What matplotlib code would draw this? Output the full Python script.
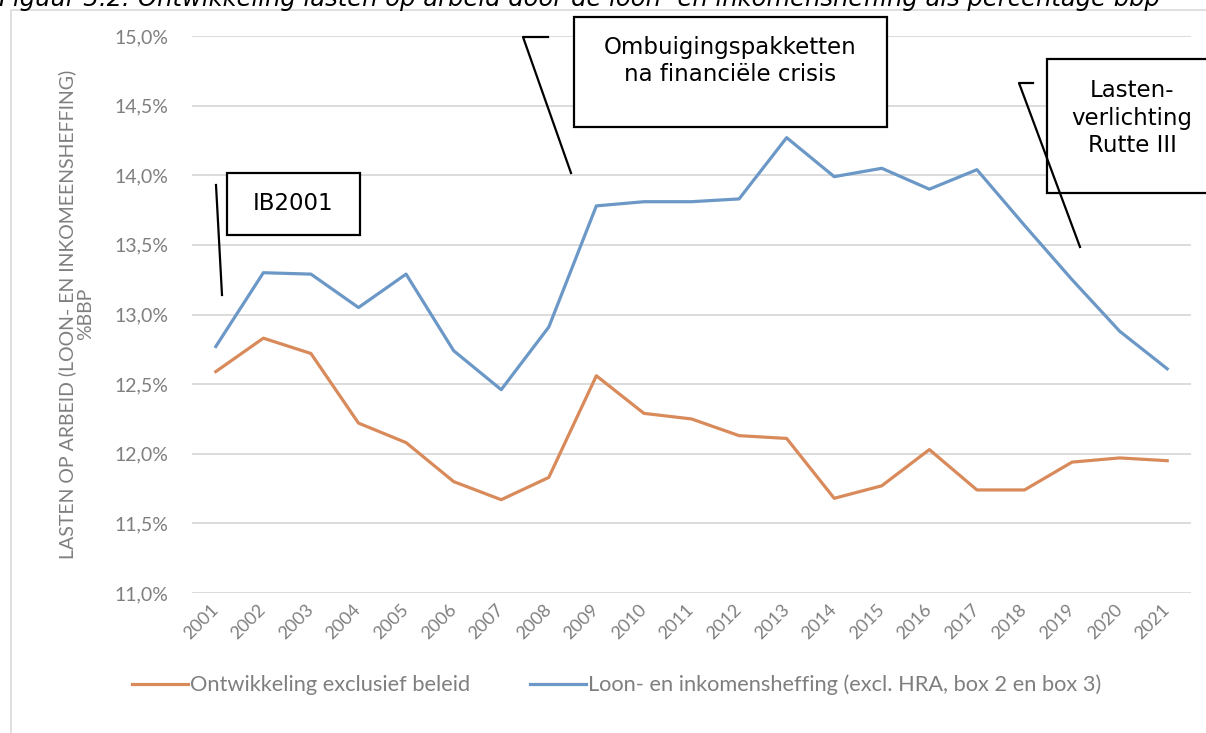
import matplotlib
matplotlib.use("Agg")
import matplotlib.pyplot as plt
from matplotlib.patches import Rectangle
from matplotlib.lines import Line2D
from matplotlib.ticker import FuncFormatter

years = [str(y) for y in range(2001, 2022)]
loon_inkomensheffing = [12.77, 13.30, 13.29, 13.05, 13.29, 12.74, 12.46, 12.91, 13.78, 13.81,
                        13.81, 13.83, 14.27, 13.99, 14.05, 13.90, 14.04, 13.64, 13.25, 12.88, 12.61]
exclusief_beleid = [12.59, 12.83, 12.72, 12.22, 12.08, 11.80, 11.67, 11.83, 12.56, 12.29,
                    12.25, 12.13, 12.11, 11.68, 11.77, 12.03, 11.74, 11.74, 11.94, 11.97, 11.95]
series_names = ["Ontwikkeling exclusief beleid",
                "Loon- en inkomensheffing (excl. HRA, box 2 en box 3)"]
y_ticks = [11.0, 11.5, 12.0, 12.5, 13.0, 13.5, 14.0, 14.5, 15.0]
title = "Figuur 3.2: Ontwikkeling lasten op arbeid door de loon- en inkomensheffing als percentage bbp"
ylabel = "LASTEN OP ARBEID (LOON- EN INKOMEENSHEFFING)\n%BBP"

W, H = 1206, 733
fig = plt.figure(figsize=(W / 100, H / 100), dpi=100)

def fx(x):
    return x / W

def fy(y):
    return 1 - y / H

BLUE = "#6b98c6"
ORANGE = "#d98a5b"
GRAY = "#7f7f7f"
GRID = "#d9d9d9"
label_font = ["Lato", "DejaVu Sans"]

# outer chart border
fig.patches.append(Rectangle((fx(11), fy(745)), fx(1220) - fx(11), fy(10) - fy(745),
                             transform=fig.transFigure, fill=False, edgecolor=GRID, lw=1.2))

ax = fig.add_axes([fx(192), fy(593), fx(1191) - fx(192), fy(36) - fy(593)])
x = list(range(len(years)))
ax.plot(x, exclusief_beleid, color=ORANGE, lw=2.3, label=series_names[0], solid_joinstyle="round")
ax.plot(x, loon_inkomensheffing, color=BLUE, lw=2.3, label=series_names[1], solid_joinstyle="round")
ax.set_xlim(-0.5, len(years) - 0.5)
ax.set_ylim(11.0, 15.0)
ax.set_yticks(y_ticks)
ax.yaxis.set_major_formatter(FuncFormatter(lambda v, p: f"{v:.1f}%".replace(".", ",")))
ax.set_xticks(x)
ax.set_xticklabels(years, rotation=45, ha="right", va="center", rotation_mode="anchor")
ax.grid(axis="y", color=GRID, lw=1.3)
ax.set_axisbelow(True)
for s in ax.spines.values():
    s.set_visible(False)
ax.tick_params(axis="both", length=0, colors=GRAY)
ax.tick_params(axis="y", pad=17, labelsize=14)
ax.tick_params(axis="x", pad=10, labelsize=13)
for lab in ax.get_xticklabels() + ax.get_yticklabels():
    lab.set_family(label_font)
    lab.set_color(GRAY)

fig.text(fx(76), fy(314), ylabel, rotation=90, ha="center", va="center", color=GRAY,
         fontsize=14, family=label_font, multialignment="center", linespacing=1.1)

leg = ax.legend(loc="center left", bbox_to_anchor=(fx(112), fy(685)), bbox_transform=fig.transFigure,
                ncol=2, frameon=False, handlelength=2.6, handletextpad=0.1, columnspacing=2.7,
                prop={"family": label_font, "size": 15.7})
for t in leg.get_texts():
    t.set_color(GRAY)

# title (cut at top, as in the source page)
fig.text(fx(-1), fy(6), title, ha="left", va="baseline", fontsize=17.5, style="italic",
         family=["DejaVu Sans"], color="black")

# annotation boxes
def box(x0, y0, x1, y1):
    fig.patches.append(Rectangle((fx(x0), fy(y1)), fx(x1) - fx(x0), fy(y0) - fy(y1),
                                 transform=fig.transFigure, fill=True, facecolor="white",
                                 edgecolor="black", lw=1.6, zorder=5))

def seg(pts):
    xs = [fx(p[0]) for p in pts]
    ys = [fy(p[1]) for p in pts]
    fig.lines.append(Line2D(xs, ys, transform=fig.transFigure, color="black", lw=1.6, zorder=6))

box(227, 173, 360, 235)
fig.text(fx(293), fy(204), "IB2001", ha="center", va="center", fontsize=16.5, family=["DejaVu Sans"], zorder=7)
seg([(216, 185), (222, 295)])

box(574, 17, 887, 127)
fig.text(fx(730), fy(61), "Ombuigingspakketten\nna financiële crisis", ha="center", va="center",
         fontsize=16.5, family=["DejaVu Sans"], linespacing=1.25, zorder=7)
seg([(548, 37), (523, 37), (571, 173)])

box(1047, 59, 1230, 193)
fig.text(fx(1132), fy(118), "Lasten-\nverlichting\nRutte III", ha="center", va="center",
         fontsize=16.5, family=["DejaVu Sans"], linespacing=1.25, zorder=7)
seg([(1033, 83), (1019, 83), (1080, 247)])

fig.savefig("out.png", dpi=100)
